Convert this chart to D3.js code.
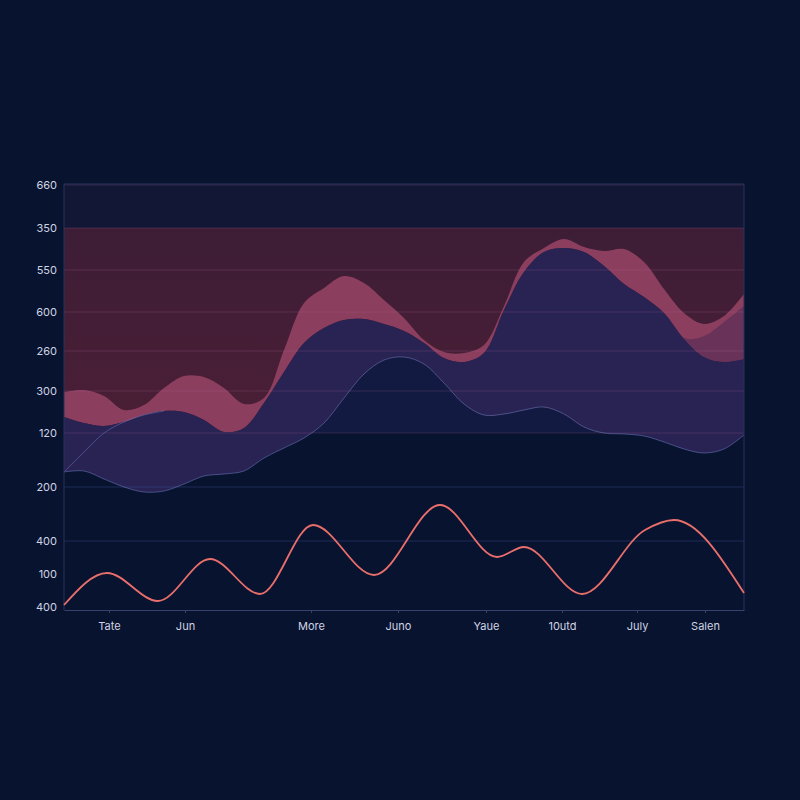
<!DOCTYPE html>
<html>
<head>
<meta charset="utf-8">
<script src="https://cdn.jsdelivr.net/npm/d3@7"></script>
<style>
  html, body { margin: 0; padding: 0; background: #08132f; }
  svg { display: block; }
  text { font-family: Inter, Roboto, "Noto Sans", sans-serif; }
</style>
</head>
<body>
<svg id="chart" width="800" height="800"></svg>
<script>
// ---------- data ----------
// sample index (0..34) along the horizontal axis
const sampleIndex = d3.range(35);

// upper pink band top
const pinkTop = [109, 110, 107, 100, 102.5, 111, 117, 116.5, 111, 103, 106, 130, 153.5, 161, 167, 163.5, 155, 146, 135, 129, 128.5, 132.5, 152, 174, 181, 185.5, 181.5, 179.5, 180.5, 174, 160.5, 148.5, 143, 147, 158];
// purple band top
const purpleTop = [96.5, 93.5, 92, 94, 97.5, 99.5, 99, 95, 89, 91, 103.5, 119, 133.5, 141, 145, 145.5, 143, 139.5, 133.5, 126, 124, 128.5, 150, 169, 179, 181, 179, 172, 163, 156.5, 148.5, 135.5, 126.5, 124, 125.5];
// mauve overlay top (only differs at the right end)
const mauveTop = [96.5, 93.5, 92, 94, 97.5, 99.5, 99, 95, 89, 91, 103.5, 119, 133.5, 141, 145, 145.5, 143, 139.5, 133.5, 126, 124, 128.5, 150, 169, 179, 181, 179, 172, 163, 156.5, 148.5, 136, 137, 144, 152];
// lower navy series
const navyTop = [69, 69.5, 65.5, 61.5, 59, 59.5, 63, 67, 68, 69.5, 76, 81, 86, 93.5, 106, 118, 125, 126.5, 123, 113.5, 103, 97.5, 98, 100, 101.5, 98, 91.5, 88.5, 88, 87, 84, 80.5, 78.5, 80.5, 87.5];
// thin trace rising at the left
const traceIndex = [0, 1, 2, 3, 4, 5];
const traceValues = [69, 79, 88.5, 94, 97.5, 99.5];

// coral line series (key points)
const lineX = [0, 2.15, 4.7, 7.3, 9.8, 12.45, 15.5, 18.8, 21.65, 23, 25.9, 29.05, 30.5, 34];
const lineY = [2.5, 18.5, 4.5, 25.5, 8, 42.5, 17.5, 52.5, 26.5, 31.5, 8, 40, 45, 8.5];

// axes
const xLabels = ["Tate", "Jun", "More", "Juno", "Yaue", "10utd", "July", "Salen"];
const xLabelPos = [2.25, 6.05, 12.35, 16.7, 21.1, 24.9, 28.65, 32.05];
const yLabels = ["660", "350", "550", "600", "260", "300", "120", "200", "400", "100", "400"];
const yLabelPos = [212.5, 191, 170, 149, 129.5, 109.5, 88.5, 61.5, 34.5, 18, 1.5];
const gridCount = 9;       // first nine levels carry gridlines
const bandTop = 191;       // maroon band upper level
const bandBase = 88.5;     // band / areas base level

// ---------- layout ----------
const svg = d3.select("#chart");
const M = { left: 64, right: 744, top: 184, bottom: 610 };

const x = d3.scaleLinear().domain([0, 34]).range([M.left, M.right]);
const y = d3.scaleLinear().domain([0, 213]).range([M.bottom, M.top]);

const defs = svg.append("defs");
const g1 = defs.append("linearGradient").attr("id", "maroon")
  .attr("x1", 0).attr("y1", 0).attr("x2", 0).attr("y2", 1);
g1.append("stop").attr("offset", "0%").attr("stop-color", "#3d1d36");
g1.append("stop").attr("offset", "100%").attr("stop-color", "#4b1f36");

svg.append("rect").attr("width", 800).attr("height", 800).attr("fill", "#08132f");

// top band of plot
svg.append("rect")
  .attr("x", x(0)).attr("y", y(213))
  .attr("width", x(34) - x(0)).attr("height", y(bandTop) - y(213))
  .attr("fill", "#131736");

// maroon band
svg.append("rect")
  .attr("x", x(0)).attr("y", y(bandTop))
  .attr("width", x(34) - x(0)).attr("height", y(bandBase) - y(bandTop))
  .attr("fill", "url(#maroon)");

const curve = d3.curveCatmullRom.alpha(0.5);

// navy area (curve down to base)
svg.append("path")
  .datum(sampleIndex)
  .attr("fill", "#121a41")
  .attr("d", d3.area().curve(curve)
    .x(i => x(i)).y0(y(bandBase)).y1(i => y(navyTop[i])));

// pink area
svg.append("path")
  .datum(sampleIndex)
  .attr("fill", "#8b3e5e")
  .attr("d", d3.area().curve(curve)
    .x(i => x(i)).y0(i => y(purpleTop[i])).y1(i => y(pinkTop[i])));

// mauve overlay
svg.append("path")
  .datum(sampleIndex)
  .attr("fill", "#693359")
  .attr("d", d3.area().curve(curve)
    .x(i => x(i)).y0(i => y(purpleTop[i])).y1(i => y(mauveTop[i])));

// purple area
svg.append("path")
  .datum(sampleIndex)
  .attr("fill", "#292353")
  .attr("d", d3.area().curve(curve)
    .x(i => x(i)).y0(i => y(navyTop[i])).y1(i => y(purpleTop[i])));

// gridlines
const grid = svg.append("g");
yLabelPos.slice(0, gridCount).forEach(v => {
  grid.append("line")
    .attr("x1", x(0)).attr("x2", x(34))
    .attr("y1", y(v)).attr("y2", y(v))
    .attr("stroke", v >= bandBase ? "rgba(190,110,160,0.2)" : "rgba(70,95,165,0.35)")
    .attr("stroke-width", 1);
});

// outline strokes
svg.append("path")
  .datum(sampleIndex)
  .attr("fill", "none")
  .attr("stroke", "rgba(115,130,200,0.55)")
  .attr("stroke-width", 0.9)
  .attr("d", d3.line().curve(curve).x(i => x(i)).y(i => y(navyTop[i])));

svg.append("path")
  .datum(traceIndex)
  .attr("fill", "none")
  .attr("stroke", "rgba(115,130,200,0.5)")
  .attr("stroke-width", 0.9)
  .attr("d", d3.line().curve(curve).x(i => x(i)).y(i => y(traceValues[i])));

// plot border (top, left, right)
svg.append("path")
  .attr("fill", "none")
  .attr("stroke", "#28325a")
  .attr("stroke-width", 1)
  .attr("d", `M${x(0)},${y(0)}V${y(213)}H${x(34)}V${y(0)}`);

// coral line
svg.append("path")
  .datum(lineX.map((v, i) => [v, lineY[i]]))
  .attr("fill", "none")
  .attr("stroke", "#ea6f6c")
  .attr("stroke-width", 1.8)
  .attr("d", d3.line().curve(d3.curveMonotoneX).x(d => x(d[0])).y(d => y(d[1])));

// x axis
const xAxis = svg.append("g")
  .attr("transform", `translate(0,${M.bottom})`)
  .call(d3.axisBottom(x).tickValues(xLabelPos)
    .tickFormat((d, i) => xLabels[i]).tickSize(3).tickSizeOuter(0).tickPadding(9));
xAxis.select(".domain").attr("stroke", "#36426e");
xAxis.selectAll(".tick line").attr("stroke", "#36426e");
xAxis.selectAll("text").attr("fill", "#cfd3e3").attr("font-size", 11);

// y axis
const yAxis = svg.append("g")
  .attr("transform", `translate(${M.left},0)`)
  .call(d3.axisLeft(y).tickValues(yLabelPos)
    .tickFormat((d, i) => yLabels[i]).tickSize(0).tickPadding(7));
yAxis.select(".domain").remove();
yAxis.selectAll("text").attr("fill", "#cfd3e3").attr("font-size", 11);
</script>
</body>
</html>
